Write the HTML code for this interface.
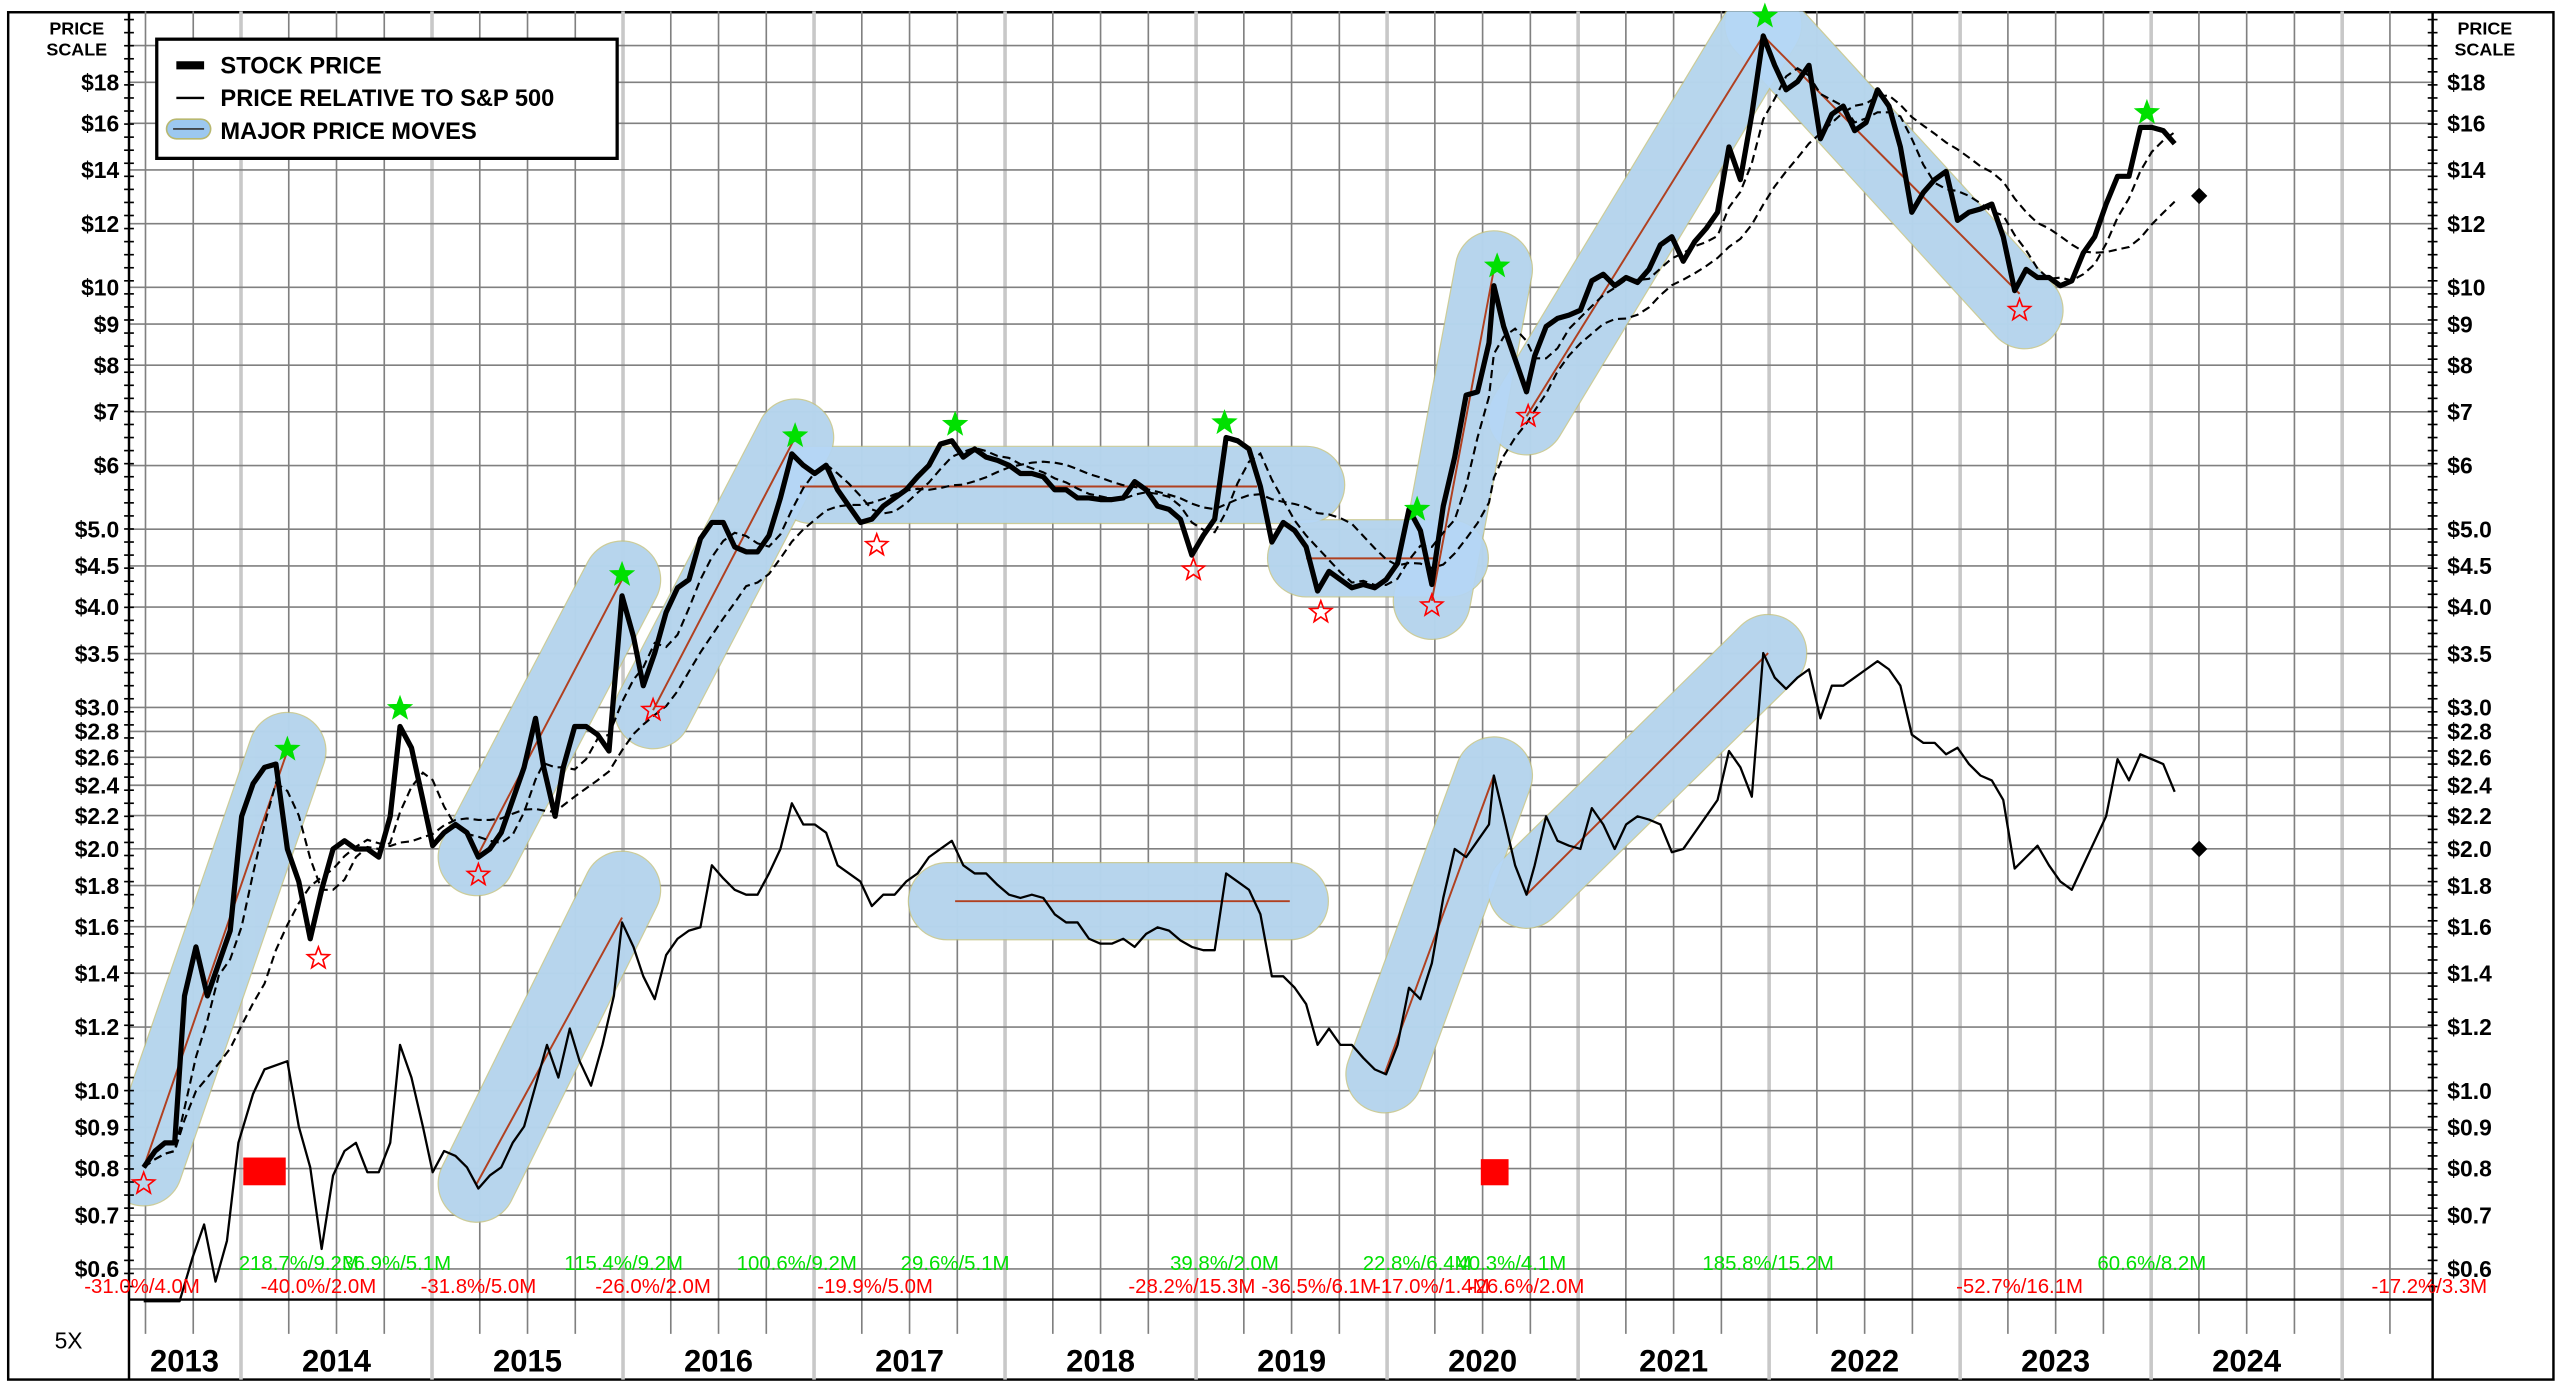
<!DOCTYPE html>
<html><head><meta charset="utf-8"><style>
html,body{margin:0;padding:0;background:#fff;}
svg{display:block;}
text{font-family:"Liberation Sans",Arial,sans-serif;}
</style></head><body>
<svg id="s" width="2560" height="1389" viewBox="0 0 1568 850.78" xmlns="http://www.w3.org/2000/svg"><defs><clipPath id="pc"><rect x="79" y="7" width="1411" height="789"/></clipPath></defs></svg>
<script>
const S=document.getElementById('s');
const NS='http://www.w3.org/2000/svg';
function el(t,a,txt,par){const e=document.createElementNS(NS,t);for(const k in a)e.setAttribute(k,a[k]);if(txt!==undefined&&txt!==null)e.textContent=txt;(par||S).appendChild(e);return e;}
const Y=p=>176-213.7*Math.log(p/10);
const L=79,R=1490,B=796,T=7;
el('rect',{x:5,y:7.5,width:1559,height:837.5,fill:'#fff',stroke:'#000','stroke-width':1.5});
for(let k=-2;k<=46;k++){const x=147.6+29.25*k;if(x<=L+2||x>=R-2)continue;
 const thick=(k%4===0);
 el('line',{x1:x,y1:T,x2:x,y2:thick?845:817,stroke:thick?'#c8c8c8':'#808080','stroke-width':thick?2.2:1});}
const gp=[20,18,16,14,12,10,9,8,7,6,5,4.5,4,3.5,3,2.8,2.6,2.4,2.2,2,1.8,1.6,1.4,1.2,1,0.9,0.8,0.7,0.6];
gp.forEach(p=>{const y=Y(p);el('line',{x1:L,y1:y,x2:R,y2:y,stroke:'#808080','stroke-width':1});});
// capsules (clipped)
const g=el('g',{'clip-path':'url(#pc)'});
const caps=[[88,715,176,460],[292,525,381,355],[400,435,487,268],[497,297,800,297],[800,342,888,342],[877,368,915,165],[935,255,1080,15],[1080,15,1240,190],
[292,725,381,545],[580,552,790,552],[848,658,915,475],[935,545,1083,400]];
const brown=[[88,715,176,460],[292,525,381,355],[400,435,487,268],[490,298,770,298],[800,342,880,342],[877,368,915,165],[935,255,1080,22],[1080,22,1237,180],
[292,725,381,562],[585,552,790,552],[848,658,915,475],[935,548,1083,400]];
caps.forEach(c=>el('line',{x1:c[0],y1:c[1],x2:c[2],y2:c[3],stroke:'#c0c080','stroke-width':48,'stroke-linecap':'round',opacity:0.8},null,g));
caps.forEach(c=>el('line',{x1:c[0],y1:c[1],x2:c[2],y2:c[3],stroke:'#b5d7f7','stroke-width':46.5,'stroke-linecap':'round',opacity:0.9},null,g));
brown.forEach(c=>el('line',{x1:c[0],y1:c[1],x2:c[2],y2:c[3],stroke:'#b04020','stroke-width':1.2},null,g));
gp.forEach(p=>{const y=Y(p);
 if(p!==20){const lab='$'+(p>=6?p.toFixed(0):p.toFixed(1));
 el('text',{x:73,y:y+5,'text-anchor':'end','font-size':14,'font-weight':'bold'},lab);
 el('text',{x:1499,y:y+5,'font-size':14,'font-weight':'bold'},lab);}});
el('line',{x1:L,y1:T,x2:L,y2:845,stroke:'#000','stroke-width':1.5});
el('line',{x1:R,y1:T,x2:R,y2:845,stroke:'#000','stroke-width':1.5});
el('line',{x1:L,y1:B,x2:R,y2:B,stroke:'#000','stroke-width':1.5});
for(let y=12;y<796;y+=8){el('line',{x1:L-3,y1:y,x2:L+3,y2:y,stroke:'#000','stroke-width':1});el('line',{x1:R-3,y1:y,x2:R+3,y2:y,stroke:'#000','stroke-width':1});}
el('text',{x:47,y:21,'text-anchor':'middle','font-size':11,'font-weight':'bold'},'PRICE');
el('text',{x:47,y:34,'text-anchor':'middle','font-size':11,'font-weight':'bold'},'SCALE');
el('text',{x:1522,y:21,'text-anchor':'middle','font-size':11,'font-weight':'bold'},'PRICE');
el('text',{x:1522,y:34,'text-anchor':'middle','font-size':11,'font-weight':'bold'},'SCALE');
const sp=[[88,715],[95,705],[101,700],[107,700],[113,610],[120,580],[127,610],[134,590],[141,570],[148,500],[155,480],[162,470],[169,468],[176,520],[183,540],[190,575],[197,545],[204,520],[211,515],[218,520],[225,520],[232,525],[239,500],[245,445],[252,458],[259,490],[265,518],[272,510],[279,505],[286,510],[293,525],[300,520],[307,510],[314,490],[321,470],[328,440],[333,470],[340,500],[345,470],[352,445],[359,445],[366,450],[373,460],[381,365],[388,390],[394,420],[401,400],[408,375],[415,360],[422,355],[429,330],[436,320],[443,320],[450,335],[457,338],[464,338],[471,328],[478,305],[485,278],[492,285],[499,290],[506,285],[513,300],[520,310],[527,320],[534,318],[541,310],[548,305],[555,300],[562,292],[569,285],[576,272],[583,270],[590,280],[597,275],[604,280],[611,282],[618,285],[625,290],[632,290],[639,292],[646,300],[653,300],[660,305],[667,305],[674,306],[681,306],[688,305],[695,295],[702,300],[709,310],[716,312],[723,318],[730,340],[737,328],[744,318],[751,268],[758,270],[765,275],[772,298],[779,332],[786,320],[793,325],[800,335],[807,362],[814,350],[821,355],[828,360],[835,358],[842,360],[849,355],[856,345],[863,312],[870,325],[877,358],[884,310],[891,280],[898,242],[905,240],[912,210],[915,175],[921,200],[928,220],[935,240],[940,218],[947,200],[954,195],[961,193],[968,190],[975,172],[982,168],[989,175],[996,170],[1003,173],[1010,165],[1017,150],[1024,145],[1031,160],[1038,148],[1045,140],[1052,130],[1059,90],[1066,110],[1073,70],[1080,22],[1087,40],[1094,55],[1101,50],[1108,40],[1115,85],[1122,70],[1129,65],[1136,80],[1143,75],[1150,55],[1157,65],[1164,90],[1171,130],[1178,118],[1185,110],[1192,105],[1199,135],[1206,130],[1213,128],[1220,125],[1227,145],[1234,178],[1241,165],[1248,170],[1255,170],[1262,175],[1269,172],[1276,155],[1283,145],[1290,125],[1297,108],[1304,108],[1311,78],[1318,78],[1325,80],[1332,88]];
const rp=[[88,797],[100,797],[110,797],[118,770],[125,750],[132,785],[139,760],[146,700],[155,670],[162,655],[176,650],[183,690],[190,715],[197,765],[204,720],[211,705],[218,700],[225,718],[232,718],[239,700],[245,640],[252,660],[259,690],[265,718],[272,705],[279,708],[286,715],[293,728],[300,720],[307,715],[314,700],[321,690],[328,665],[335,640],[342,660],[349,630],[355,650],[362,665],[369,640],[376,610],[381,565],[388,580],[394,598],[401,612],[408,585],[415,575],[422,570],[429,568],[436,530],[443,538],[450,545],[457,548],[464,548],[471,535],[478,520],[485,492],[492,505],[499,505],[506,510],[513,530],[520,535],[527,540],[534,555],[541,548],[548,548],[555,540],[562,535],[569,525],[576,520],[583,515],[590,530],[597,535],[604,535],[611,542],[618,548],[625,550],[632,548],[639,550],[646,560],[653,565],[660,565],[667,575],[674,578],[681,578],[688,575],[695,580],[702,572],[709,568],[716,570],[723,576],[730,580],[737,582],[744,582],[751,535],[758,540],[765,545],[772,560],[779,598],[786,598],[793,605],[800,615],[807,640],[814,630],[821,640],[828,640],[835,648],[842,655],[849,658],[856,640],[863,605],[870,612],[877,590],[884,550],[891,520],[898,525],[905,515],[912,505],[915,475],[921,500],[928,530],[935,548],[940,530],[947,500],[954,515],[961,518],[968,520],[975,495],[982,505],[989,520],[996,505],[1003,500],[1010,502],[1017,505],[1024,522],[1031,520],[1038,510],[1045,500],[1052,490],[1059,460],[1066,470],[1073,488],[1080,400],[1087,415],[1094,422],[1101,415],[1108,410],[1115,440],[1122,420],[1129,420],[1136,415],[1143,410],[1150,405],[1157,410],[1164,420],[1171,450],[1178,455],[1185,455],[1192,462],[1199,458],[1206,468],[1213,475],[1220,478],[1227,490],[1234,532],[1241,525],[1248,518],[1255,530],[1262,540],[1269,545],[1276,530],[1283,515],[1290,500],[1297,465],[1304,478],[1311,462],[1318,465],[1325,468],[1332,485]];
function ma(arr,n){return arr.map((p,i)=>{let s=0,c=0;for(let j=Math.max(0,i-n+1);j<=i;j++){s+=arr[j][1];c++;}return [p[0],s/c];});}
const pts=a=>a.map(p=>p[0].toFixed(1)+','+p[1].toFixed(1)).join(' ');
let m1=ma(sp,4),m2=ma(sp,12);
el('polyline',{points:pts(m1),fill:'none',stroke:'#000','stroke-width':1.3,'stroke-dasharray':'5,3'});
el('polyline',{points:pts(m2),fill:'none',stroke:'#000','stroke-width':1.3,'stroke-dasharray':'5,3'});
el('polyline',{points:pts(rp),fill:'none',stroke:'#000','stroke-width':1.4,'stroke-linejoin':'round'});
el('polyline',{points:pts(sp),fill:'none',stroke:'#000','stroke-width':3.2,'stroke-linejoin':'round'});
[[1347,120],[1347,520]].forEach(d=>el('polygon',{points:`${d[0]},${d[1]-5} ${d[0]+5},${d[1]} ${d[0]},${d[1]+5} ${d[0]-5},${d[1]}`,fill:'#000'}));
el('rect',{x:149,y:709,width:26,height:17,fill:'#f00'});
el('rect',{x:907,y:710,width:17,height:16,fill:'#f00'});
function star(cx,cy,r,fill,stroke){let p=[];for(let i=0;i<10;i++){const a=-Math.PI/2+i*Math.PI/5;const rr=i%2?r*0.42:r;p.push((cx+rr*Math.cos(a)).toFixed(1)+','+(cy+rr*Math.sin(a)).toFixed(1));}
 el('polygon',{points:p.join(' '),fill:fill,stroke:stroke,'stroke-width':1});}
[[176,459],[245,434],[381,352],[487,267],[585,260],[750,259],[868,312],[917,163],[1081,10],[1315,69]].forEach(s=>star(s[0],s[1],7,'#00e000','#00e000'));
[[88,725],[195,587],[293,536],[400,435],[537,334],[731,349],[809,375],[877,371],[936,255],[1237,190]].forEach(s=>star(s[0],s[1],7,'none','#f00'));
const gl=[[183,'218.7%/9.2M'],[243,'36.9%/5.1M'],[382,'115.4%/9.2M'],[488,'100.6%/9.2M'],[585,'29.6%/5.1M'],[750,'39.8%/2.0M'],[868,'22.8%/6.4M'],[926,'40.3%/4.1M'],[1083,'185.8%/15.2M'],[1318,'60.6%/8.2M']];
gl.forEach(q=>el('text',{x:q[0],y:778,'text-anchor':'middle','font-size':12.5,fill:'#00e000'},q[1]));
const rl=[[87,'-31.0%/4.0M'],[195,'-40.0%/2.0M'],[293,'-31.8%/5.0M'],[400,'-26.0%/2.0M'],[536,'-19.9%/5.0M'],[730,'-28.2%/15.3M'],[808,'-36.5%/6.1M'],[877,'-17.0%/1.4M'],[935,'-26.6%/2.0M'],[1237,'-52.7%/16.1M'],[1488,'-17.2%/3.3M']];
rl.forEach(q=>el('text',{x:q[0],y:792,'text-anchor':'middle','font-size':12.5,fill:'#f00'},q[1]));
el('text',{x:113,y:840,'text-anchor':'middle','font-size':19,'font-weight':'bold'},'2013');
for(let i=0;i<11;i++)el('text',{x:147.6+117*i+58.5,y:840,'text-anchor':'middle','font-size':19,'font-weight':'bold'},String(2014+i));
el('text',{x:42,y:826,'text-anchor':'middle','font-size':14},'5X');
el('rect',{x:96,y:24,width:282,height:73,fill:'#fff',stroke:'#000','stroke-width':2});
el('line',{x1:108,y1:40,x2:125,y2:40,stroke:'#000','stroke-width':5});
el('line',{x1:108,y1:60,x2:125,y2:60,stroke:'#000','stroke-width':1.5});
el('line',{x1:108,y1:79,x2:123,y2:79,stroke:'#b8b870','stroke-width':13,'stroke-linecap':'round'});
el('line',{x1:108,y1:79,x2:123,y2:79,stroke:'#9cc8f0','stroke-width':11,'stroke-linecap':'round'});
el('line',{x1:106,y1:79,x2:125,y2:79,stroke:'#333','stroke-width':1});
el('text',{x:135,y:45,'font-size':14.5,'font-weight':'bold'},'STOCK PRICE');
el('text',{x:135,y:65,'font-size':14.5,'font-weight':'bold'},'PRICE RELATIVE TO S&P 500');
el('text',{x:135,y:85,'font-size':14.5,'font-weight':'bold'},'MAJOR PRICE MOVES');
</script>
</body></html>
